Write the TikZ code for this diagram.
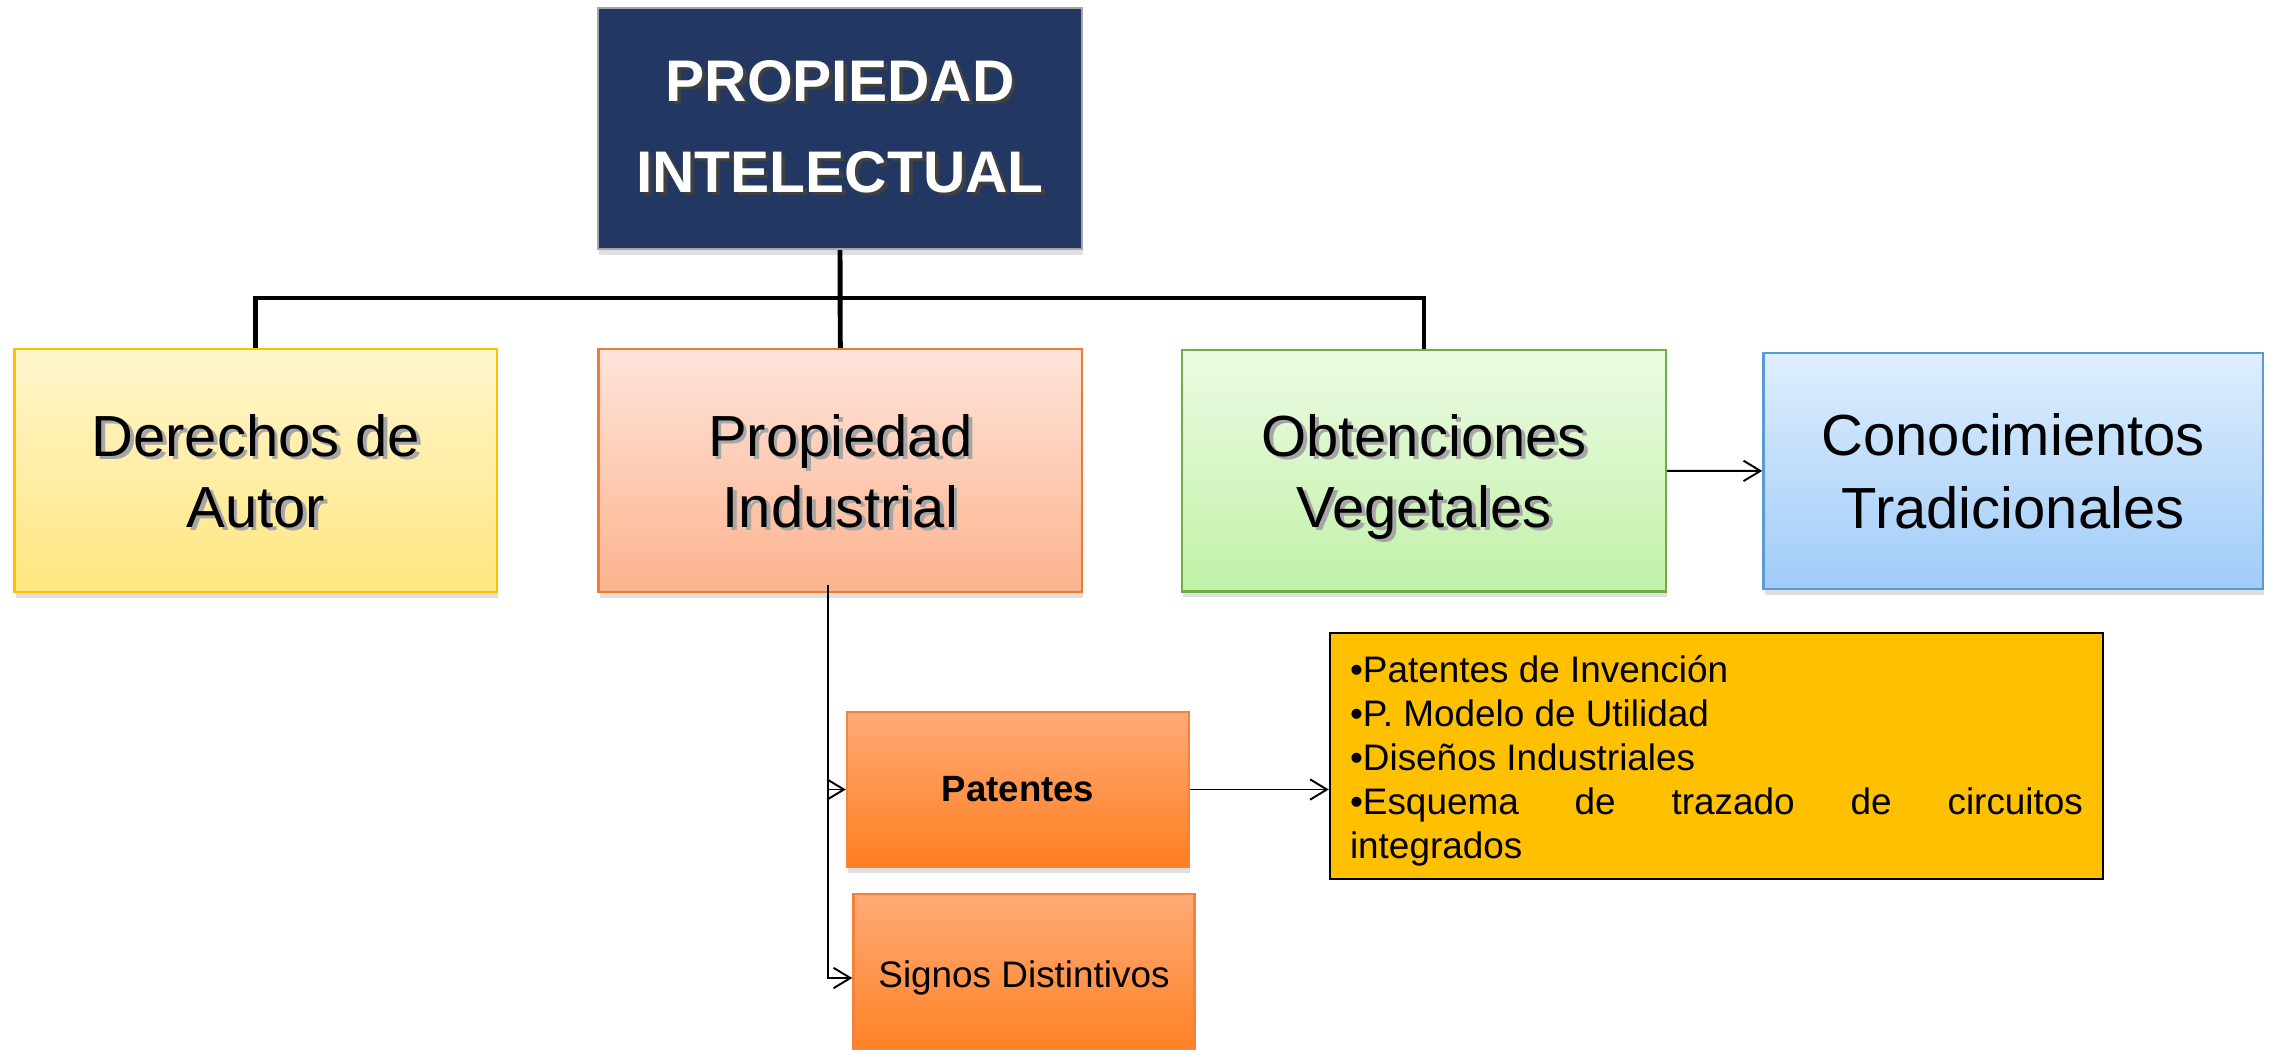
\documentclass[tikz,border=0pt]{standalone}
\usepackage{fontspec}
\setmainfont{Liberation Sans}
\usetikzlibrary{shadows,arrows.meta}
\definecolor{navy}{HTML}{223762}
\definecolor{navyedge}{HTML}{A6A6A6}
\definecolor{yeltop}{HTML}{FFF6CE}
\definecolor{yelbot}{HTML}{FFE67F}
\definecolor{yeledge}{HTML}{FFC000}
\definecolor{peachtop}{HTML}{FFE4DA}
\definecolor{peachbot}{HTML}{FCB38E}
\definecolor{peachedge}{HTML}{F07A30}
\definecolor{greentop}{HTML}{ECFBE4}
\definecolor{greenbot}{HTML}{C1F1A6}
\definecolor{greenedge}{HTML}{70AD47}
\definecolor{bluetop}{HTML}{DEEEFE}
\definecolor{bluebot}{HTML}{A0CCF9}
\definecolor{blueedge}{HTML}{5B9BD5}
\definecolor{orgtop}{HTML}{FFAA78}
\definecolor{orgbot}{HTML}{FF7E1E}
\definecolor{orgedge}{HTML}{F5823A}
\definecolor{listfill}{HTML}{FFC000}
\newcommand{\shtxt}[2]{\makebox[0pt][l]{\raisebox{-0.9pt}{\hspace{1.1pt}\textcolor{#1}{#2}}}#2}
\begin{document}
\begin{tikzpicture}[x=0.1mm,y=-0.1mm,
  box/.style={draw, line width=0.7pt, inner sep=0pt, align=center,
    drop shadow={shadow xshift=0.4pt, shadow yshift=-1.6pt, opacity=0.25}},
  bigtxt/.style={font=\fontsize{16.5}{20.2}\selectfont, text depth=0pt},
  smalltxt/.style={font=\fontsize{10.5}{12.5}\selectfont},
  busline/.style={line width=1.4pt, black},
  arr/.style={-{Straight Barb[length=4.8pt,width=5.8pt]}, line width=0.55pt, black}]
\useasboundingbox (0,0) rectangle (2272,1049);
\clip (0,0) rectangle (2272,1049);
% top node
\node[box, fill=navy, draw=navyedge, text=white,
  font=\bfseries\fontsize{16.7}{25.8}\selectfont,
  minimum width=48.4mm, minimum height=24.1mm] (top) at (840,128.5)
  {\shtxt{black!75}{PROPIEDAD}\\\shtxt{black!75}{INTELECTUAL}};
% second row
\node[box, bigtxt, top color=yeltop, bottom color=yelbot, draw=yeledge,
  minimum width=48.25mm, minimum height=24.3mm] (der) at (255.75,470.5)
  {\shtxt{black!35}{Derechos de}\\\shtxt{black!35}{Autor}};
\node[box, bigtxt, top color=peachtop, bottom color=peachbot, draw=peachedge,
  minimum width=48.34mm, minimum height=24.3mm] (pi) at (840.3,470.5)
  {\shtxt{black!35}{Propiedad}\\\shtxt{black!35}{Industrial}};
\node[box, bigtxt, top color=greentop, bottom color=greenbot, draw=greenedge,
  minimum width=48.4mm, minimum height=24.16mm] (obt) at (1424,470.8)
  {\shtxt{black!35}{Obtenciones}\\\shtxt{black!35}{Vegetales}};
\node[box, bigtxt, font=\fontsize{16.5}{21}\selectfont, top color=bluetop, bottom color=bluebot, draw=blueedge,
  minimum width=49.95mm, minimum height=23.6mm] (con) at (2013.25,470.9)
  {Conocimientos\\Tradicionales};
% lower boxes
\node[box, font=\bfseries\fontsize{10.4}{12.5}\selectfont,
  top color=orgtop, bottom color=orgbot, draw=orgedge,
  minimum width=34.2mm, minimum height=15.5mm] (pat) at (1018,789.5) {Patentes};
\node[box, smalltxt, top color=orgtop, bottom color=orgbot, draw=orgedge,
  minimum width=34.1mm, minimum height=16.8mm] (sig) at (1024,978) {Signos Distintivos};
\node[draw=black, line width=0.7pt, fill=listfill, smalltxt,
  text width=73.3mm, inner xsep=2mm, inner ysep=0pt, minimum height=24.6mm,
  align=justify] (list) at (1716.5,756)
  {\setlength{\parindent}{0pt}\setlength{\parskip}{0pt}%
   \rule{0pt}{10.5pt}•Patentes de Invención\par
   •P. Modelo de Utilidad\par
   •Diseños Industriales\par
   •Esquema de trazado de circuitos\linebreak integrados};
% connectors
\coordinate (bus) at (840,298);
\coordinate (pis) at (828,585);
\draw[busline] (top.south) -- (pi.north);
\draw[busline] (der.north) |- (bus) -| (obt.north);
\draw[arr] (obt.east) -- (con.west);
\draw[arr] (pis) |- (pat.west);
\draw[arr] (pis) |- (sig.west);
\draw[arr] (pat.east) -- (list.west |- pat.east);
\end{tikzpicture}
\end{document}
